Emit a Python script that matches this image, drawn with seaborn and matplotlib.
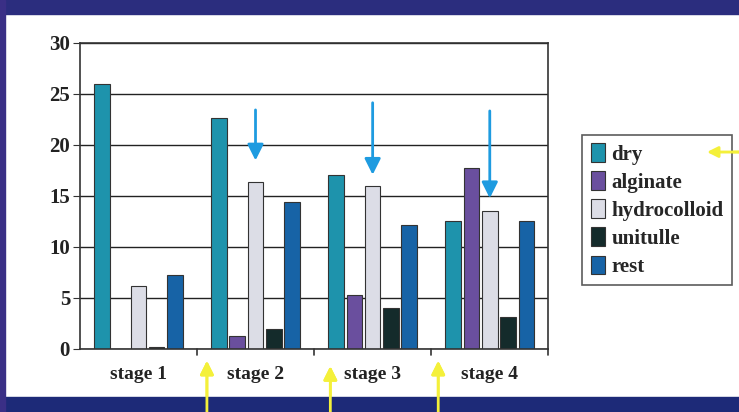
import matplotlib
matplotlib.use("Agg")
import matplotlib.pyplot as plt
import seaborn as sns
import pandas as pd
from matplotlib.patches import Rectangle

# values
stages = ["stage 1", "stage 2", "stage 3", "stage 4"]
dry = [26.0, 22.6, 17.0, 12.5]
alginate = [0.0, 1.3, 5.3, 17.7]
hydrocolloid = [6.2, 16.4, 16.0, 13.5]
unitulle = [0.2, 2.0, 4.0, 3.1]
rest = [7.2, 14.4, 12.1, 12.5]

dressings = ["dry", "alginate", "hydrocolloid", "unitulle", "rest"]
colors = ["#1e93ac", "#6a4f9e", "#dcdde6", "#142b2b", "#1763a6"]

df = pd.DataFrame({"stage": stages, "dry": dry, "alginate": alginate,
                   "hydrocolloid": hydrocolloid, "unitulle": unitulle, "rest": rest})
long_df = df.melt(id_vars="stage", var_name="dressing", value_name="value")

sns.set_style("white")
plt.rcParams["font.family"] = ["Liberation Serif", "DejaVu Serif"]

fig = plt.figure(figsize=(7.39, 4.12), dpi=100)
fig.patch.set_facecolor("white")
# dark slide border bands
fig.patches.append(Rectangle((0, 0.966), 1, 0.034, transform=fig.transFigure, color="#2b2d7e", zorder=0))
fig.patches.append(Rectangle((0, 0), 1, 0.036, transform=fig.transFigure, color="#1d2a78", zorder=0))
fig.patches.append(Rectangle((0, 0), 0.007, 1, transform=fig.transFigure, color="#3a2f86", zorder=0))

ax = fig.add_axes([0.108, 0.153, 0.634, 0.743])
sns.barplot(data=long_df, x="stage", y="value", hue="dressing", hue_order=dressings,
            palette=colors, width=0.78, gap=0.15, edgecolor="#333333", linewidth=0.8,
            saturation=1, legend=True, ax=ax)

ax.set_ylim(0, 30)
ax.set_xlim(-0.5, 3.5)
ax.set_yticks(range(0, 31, 5))
ax.yaxis.grid(True, color="#222222", linewidth=1.0)
ax.set_axisbelow(True)
ax.set_xlabel("")
ax.set_ylabel("")
for s in ax.spines.values():
    s.set_color("#333333")
    s.set_linewidth(1.2)
ax.tick_params(axis="y", labelsize=15, length=5, direction="out", left=True, color="#333333", pad=2)
ax.tick_params(axis="x", labelsize=14, length=0, pad=12)
for lbl in ax.get_yticklabels() + ax.get_xticklabels():
    lbl.set_fontweight("bold")
    lbl.set_color("#222222")
# category separators on x axis
for xs in [0.5, 1.5, 2.5, 3.5]:
    ax.plot([xs, xs], [0, -0.6], color="#333333", lw=1.2, clip_on=False)

# blue arrows pointing at hydrocolloid bars
for i, (y0, y1) in zip([1, 2, 3], [(23.7, 18.2), (24.4, 16.8), (23.6, 14.5)]):
    ax.annotate("", xy=(i, y1), xytext=(i, y0),
                arrowprops=dict(arrowstyle="-|>", color="#1e9be0", lw=2, mutation_scale=24))

# yellow arrows from below
for xf, tip in [(0.280, 0.131), (0.447, 0.118), (0.593, 0.131)]:
    fig.add_artist(plt.annotate("", xy=(xf, tip), xytext=(xf, -0.01), xycoords="figure fraction",
                                arrowprops=dict(arrowstyle="-|>", color="#f4f03a", lw=2, mutation_scale=20)))
fig.add_artist(plt.annotate("", xy=(0.953, 0.631), xytext=(1.01, 0.631), xycoords="figure fraction",
                            arrowprops=dict(arrowstyle="-|>", color="#f4f03a", lw=2, mutation_scale=16)))

leg = ax.legend(loc="upper left", bbox_to_anchor=(0.788, 0.673), bbox_transform=fig.transFigure,
                borderaxespad=0, frameon=True, fancybox=False, edgecolor="#333333",
                handlelength=0.7, handleheight=1.0, handletextpad=0.3, labelspacing=0.32, borderpad=0.4,
                prop={"family": "Liberation Serif", "weight": "bold", "size": 15})
leg.get_frame().set_linewidth(1.2)

fig.savefig("out.png", dpi=100)
